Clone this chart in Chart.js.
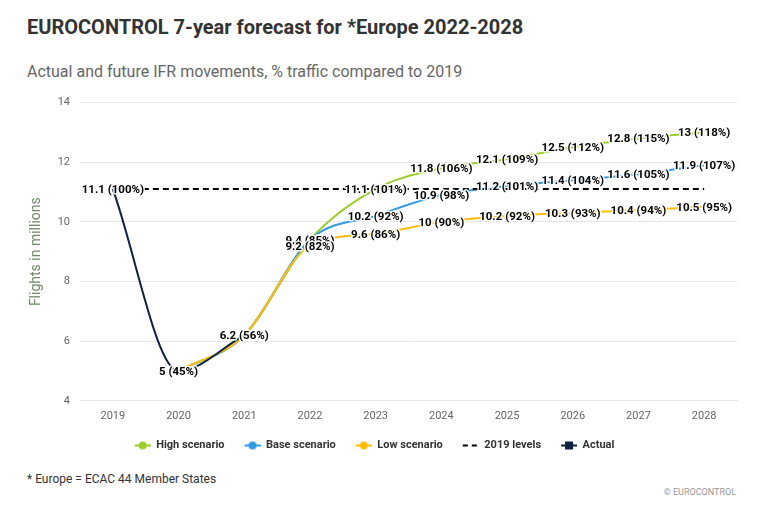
<!DOCTYPE html>
<html>
<head>
<meta charset="utf-8">
<script src="https://cdn.jsdelivr.net/npm/chart.js@4.4.0/dist/chart.umd.min.js"></script>
<style>
  html, body { margin: 0; padding: 0; background: #fff; }
  #wrap { position: relative; width: 763px; height: 523px; font-family: Roboto, "Open Sans", sans-serif; }
  #title { position: absolute; left: 27px; top: 15px; font-size: 20px; font-weight: bold; color: #333; white-space: nowrap; }
  #subtitle { position: absolute; left: 27px; top: 62px; font-size: 16px; color: #666; white-space: nowrap; }
  #foot { position: absolute; left: 27px; top: 472px; font-size: 12px; color: #333; white-space: nowrap; }
  #credit { position: absolute; right: 27px; top: 487px; font-size: 9px; color: #999; white-space: nowrap; }
  #cv { position: absolute; left: 0; top: 86px; }
</style>
</head>
<body>
<div id="wrap">
  <div id="title">EUROCONTROL 7-year forecast for *Europe 2022-2028</div>
  <div id="subtitle">Actual and future IFR movements, % traffic compared to 2019</div>
  <canvas id="cv" width="763" height="379"></canvas>
  <div id="foot">* Europe = ECAC 44 Member States</div>
  <div id="credit">© EUROCONTROL</div>
</div>
<script>
const years = ['2019','2020','2021','2022','2023','2024','2025','2026','2027','2028'];
const yTicks = [4, 6, 8, 10, 12, 14];

const actual     = [11.1, 5.0, 6.2, null, null, null, null, null, null, null];
const actualPct  = [100, 45, 56, null, null, null, null, null, null, null];

const high       = [null, 5.0, 6.2, 9.4, 11.1, 11.8, 12.1, 12.5, 12.8, 13.0];
const highPct    = [null, null, null, 85, 101, 106, 109, 112, 115, 118];

const base       = [null, 5.0, 6.2, 9.4, 10.2, 10.9, 11.2, 11.4, 11.6, 11.9];
const basePct    = [null, null, null, 85, 92, 98, 101, 104, 105, 107];

const low        = [null, 5.0, 6.2, 9.2, 9.6, 10.0, 10.2, 10.3, 10.4, 10.5];
const lowPct     = [null, null, null, 82, 86, 90, 92, 93, 94, 95];

const levels2019 = [11.1, 11.1, 11.1, 11.1, 11.1, 11.1, 11.1, 11.1, 11.1, 11.1];

const C_HIGH = '#9acd2a', C_BASE = '#2f9be6', C_LOW = '#ffbc0a', C_ACT = '#0d2143';
const FONT = 'Roboto, "Open Sans", sans-serif';

// legend icon: 12px transparent lead-in (acts as gap between items), then 15px symbol
function legendIcon(color, kind) {
  const c = document.createElement('canvas');
  const lead = 12;
  c.width = lead + 16; c.height = 10;
  const g = c.getContext('2d');
  g.translate(lead, 0);
  g.strokeStyle = color; g.fillStyle = color; g.lineWidth = 2;
  if (kind === 'dash') {
    g.beginPath(); g.moveTo(0,5); g.lineTo(5,5); g.moveTo(9,5); g.lineTo(14,5); g.stroke();
  } else {
    g.beginPath(); g.moveTo(0,5); g.lineTo(16,5); g.stroke();
    if (kind === 'square') { g.fillRect(4,1,8,8); }
    else { g.beginPath(); g.arc(8,5,4,0,Math.PI*2); g.fill(); }
  }
  return c;
}

const labelPlugin = {
  id: 'valueLabels',
  afterDatasetsDraw(chart) {
    const ctx = chart.ctx;
    ctx.save();
    ctx.font = 'bold 11.5px ' + FONT;
    ctx.textAlign = 'center';
    ctx.textBaseline = 'middle';
    ctx.lineJoin = 'round';
    chart.data.datasets.forEach((ds, i) => {
      if (!ds.pcts) return;
      const meta = chart.getDatasetMeta(i);
      meta.data.forEach((pt, j) => {
        const v = ds.data[j], p = ds.pcts[j];
        if (v == null || p == null) return;
        const txt = v + ' (' + p + '%)';
        ctx.strokeStyle = 'rgba(255,255,255,0.9)';
        ctx.lineWidth = 3;
        ctx.strokeText(txt, pt.x, pt.y + 1);
        ctx.fillStyle = '#000';
        ctx.fillText(txt, pt.x, pt.y + 1);
      });
    });
    ctx.restore();
  }
};

const lineCommon = { borderWidth: 2, cubicInterpolationMode: 'monotone', pointRadius: 0 };

new Chart(document.getElementById('cv'), {
  type: 'line',
  data: {
    labels: years,
    datasets: [
      Object.assign({ label: 'High scenario', data: high, pcts: highPct, borderColor: C_HIGH, backgroundColor: C_HIGH, order: 4, icon: legendIcon(C_HIGH, 'circle') }, lineCommon),
      Object.assign({ label: 'Base scenario', data: base, pcts: basePct, borderColor: C_BASE, backgroundColor: C_BASE, order: 3, icon: legendIcon(C_BASE, 'circle') }, lineCommon),
      Object.assign({ label: 'Low scenario', data: low, pcts: lowPct, borderColor: C_LOW, backgroundColor: C_LOW, order: 2, icon: legendIcon(C_LOW, 'circle') }, lineCommon),
      { label: '2019 levels', data: levels2019, borderColor: '#000', backgroundColor: '#000', borderWidth: 2, borderDash: [6, 4], pointRadius: 0, order: 1, icon: legendIcon('#000', 'dash') },
      Object.assign({ label: 'Actual', data: actual, pcts: actualPct, borderColor: C_ACT, backgroundColor: C_ACT, order: 0, icon: legendIcon(C_ACT, 'square') }, lineCommon)
    ]
  },
  options: {
    responsive: false,
    animation: false,
    layout: { padding: { top: 7, right: 26, left: 0, bottom: 4 } },
    plugins: {
      legend: {
        position: 'bottom',
        labels: {
          usePointStyle: true,
          pointStyleWidth: 28,
          font: { family: FONT, size: 11, weight: 'bold' },
          color: '#333',
          padding: 8,
          generateLabels(chart) {
            return chart.data.datasets.map((ds, i) => ({
              text: ds.label, pointStyle: ds.icon, fillStyle: ds.borderColor, strokeStyle: ds.borderColor,
              lineWidth: 0, hidden: false, datasetIndex: i, fontColor: '#333'
            }));
          }
        }
      },
      tooltip: { enabled: false }
    },
    scales: {
      x: {
        offset: true,
        grid: { display: false, drawTicks: false },
        border: { display: true, color: '#e6e6e6' },
        ticks: { color: '#666', font: { family: FONT, size: 11 }, padding: 9 }
      },
      y: {
        min: 4, max: 14,
        afterBuildTicks(s) { s.ticks = yTicks.map(v => ({ value: v })); },
        afterFit(s) { s.width = 80; },
        grid: { color: '#e6e6e6', drawTicks: false },
        border: { display: false },
        ticks: { color: '#666', font: { family: FONT, size: 11 }, padding: 10 },
        title: { display: true, text: 'Flights in millions', color: '#6e8a66', font: { family: FONT, size: 14 }, padding: { top: 28, bottom: 0 } }
      }
    }
  },
  plugins: [labelPlugin]
});
</script>
</body>
</html>
